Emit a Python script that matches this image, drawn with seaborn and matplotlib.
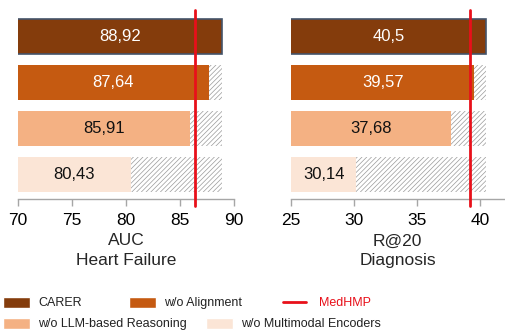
import matplotlib
matplotlib.use("Agg")
import matplotlib.pyplot as plt
import seaborn as sns
import pandas as pd
from matplotlib.patches import Patch
from matplotlib.lines import Line2D

# ---- data ----
models = ["CARER", "w/o Alignment", "w/o LLM-based Reasoning", "w/o Multimodal Encoders"]
hf_auc = [88.92, 87.64, 85.91, 80.43]
diag_r20 = [40.5, 39.57, 37.68, 30.14]
medhmp_hf = 86.4
medhmp_diag = 39.2
panel_xlabels = ["AUC\nHeart Failure", "R@20\nDiagnosis"]
hf_ticks = [70, 75, 80, 85, 90]
diag_ticks = [25, 30, 35, 40]

colors = ["#843C0C", "#C55A11", "#F4B183", "#FBE5D6"]
text_colors = ["white", "white", "#111111", "#111111"]

sns.set_theme(style="white")
plt.rcParams["font.family"] = ["Liberation Sans", "DejaVu Sans"]
plt.rcParams["hatch.linewidth"] = 0.5

fig = plt.figure(figsize=(5.06, 3.34), dpi=100)
ax1 = fig.add_axes([18/506, 1-199/334, 216/506, 189/334])
ax2 = fig.add_axes([291.3/506, 1-199/334, 212.4/506, 189/334])

def draw(ax, vals, med, xlim, ticks, xlabel):
    df = pd.DataFrame({"model": models, "value": vals, "top": [max(vals)] * len(vals)})
    # hatched background up to best value
    sns.barplot(data=df, x="top", y="model", orient="h", color="white", saturation=1,
                width=0.76, ax=ax, linewidth=0, edgecolor="#9a9a9a", hatch="///////")
    n0 = len(ax.patches)
    sns.barplot(data=df, x="value", y="model", orient="h", hue="model", saturation=1,
                palette=colors, width=0.76, ax=ax, legend=False, linewidth=0)
    bars = ax.patches[n0:]
    for i, b in enumerate(bars):
        b.set_hatch(None)
        if i == 0:
            b.set_edgecolor("#44546A")
            b.set_linewidth(1.2)
    for i, v in enumerate(vals):
        ax.text((xlim[0] + v) / 2, i, str(v).replace(".", ","), ha="center", va="center",
                color=text_colors[i], fontsize=12)
    ax.axvline(med, ymin=-0.035, ymax=1, color="#E8101A", lw=2, clip_on=False, zorder=5)
    ax.set_xlim(*xlim)
    ax.set_ylim(3.533, -0.576)
    ax.set_xticks(ticks)
    ax.set_yticks([])
    ax.set_ylabel("")
    ax.set_xlabel(xlabel, fontsize=12.5, labelpad=4, linespacing=1.4)
    for s in ["top", "right", "left"]:
        ax.spines[s].set_visible(False)
    ax.spines["bottom"].set_color("#a6a6a6")
    ax.spines["bottom"].set_linewidth(1)
    ax.tick_params(axis="x", bottom=True, direction="out", length=5, width=1,
                   color="#a6a6a6", labelsize=12.5, pad=5, labelcolor="black")
    ax.set_facecolor("none")

draw(ax1, hf_auc, medhmp_hf, (70, 90), hf_ticks, panel_xlabels[0])
draw(ax2, diag_r20, medhmp_diag, (25, 41.9), diag_ticks, panel_xlabels[1])

# ---- legend: individual entries ----
entries = [
    (Patch(facecolor=colors[0]), models[0], "#222222", 3/506, 1-303/334),
    (Patch(facecolor=colors[1]), models[1], "#222222", 129/506, 1-303/334),
    (Line2D([], [], color="#E8101A", lw=2), "MedHMP", "#E8101A", 283/506, 1-303/334),
    (Patch(facecolor=colors[2]), models[2], "#222222", 3/506, 1-324/334),
    (Patch(facecolor=colors[3]), models[3], "#222222", 206/506, 1-324/334),
]
for h, lab, tc, x, y in entries:
    is_patch = isinstance(h, Patch)
    lg = fig.legend(handles=[h], labels=[lab], loc="center left", bbox_to_anchor=(x, y),
                    frameon=False, fontsize=9, handlelength=2.16 if is_patch else 1.85,
                    handleheight=1.0, handletextpad=0.64 if is_patch else 1.05,
                    borderpad=0, borderaxespad=0)
    for t in lg.get_texts():
        t.set_color(tc)

fig.savefig("out.png", dpi=100)
